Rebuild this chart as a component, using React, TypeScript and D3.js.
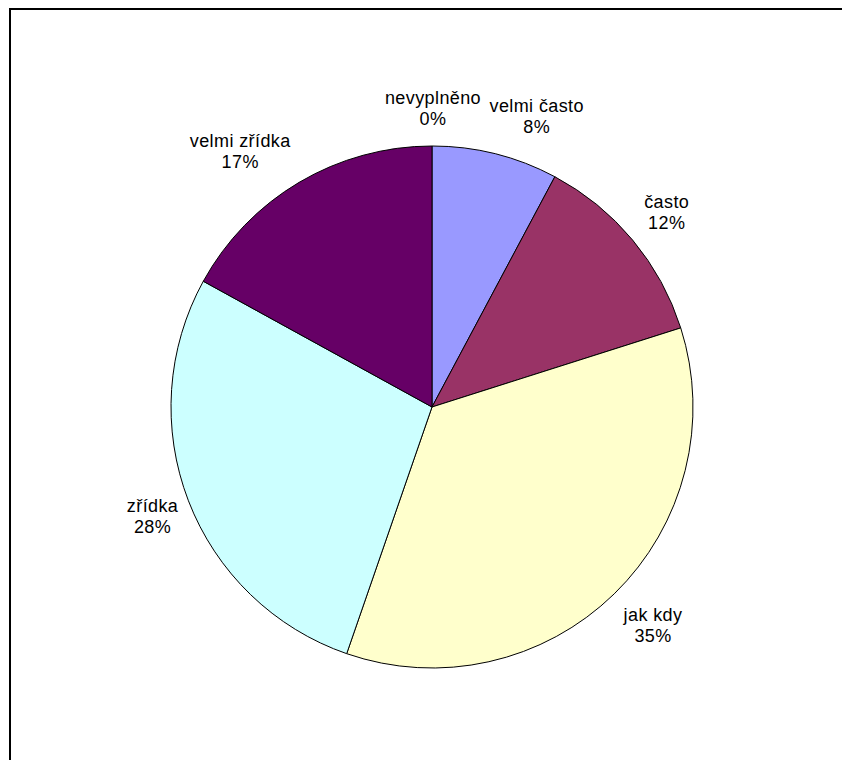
import React from "react";
import * as d3 from "d3";

const categories = ["nevyplněno", "velmi často", "často", "jak kdy", "zřídka", "velmi zřídka"];
const values = [0, 7.8, 12.3, 35.2, 27.7, 17.0];
const colors = ["#FFFFFF", "#9999FF", "#993366", "#FFFFCC", "#CCFFFF", "#660066"];
// label nudges (px) from the computed outer position, to mimic Excel's label placement
const labelNudgeX = [1, 30, -2, 6, 8, -35];
const labelNudgeY = [9, 8, 2, -3, -2, 9];

const W = 842;
const H = 760;
const cx = 432;
const cy = 407;
const R = 261;
const labelR = 308;

export default function App() {
  const pie = d3.pie<number>().sort(null).value((d) => d);
  const arcs = pie(values);
  const arc = d3.arc<d3.PieArcDatum<number>>().innerRadius(0).outerRadius(R);
  const total = d3.sum(values);

  return (
    <svg
      width={W}
      height={H}
      style={{ position: "absolute", left: 0, top: 0, display: "block", background: "#fff" }}
    >
      <path d={`M10,${H} V9 H${W}`} fill="none" stroke="#000" strokeWidth={2} />
      <g transform={`translate(${cx},${cy})`}>
        {arcs.map((a, i) => (
          <path key={i} d={arc(a) || ""} fill={colors[i]} stroke="#000" strokeWidth={1} strokeLinejoin="round" />
        ))}
      </g>
      {arcs.map((a, i) => {
        const mid = (a.startAngle + a.endAngle) / 2;
        const x = cx + labelR * Math.sin(mid) + labelNudgeX[i];
        const y = cy - labelR * Math.cos(mid) + labelNudgeY[i];
        const pct = Math.round((values[i] / total) * 100) + "%";
        return (
          <text
            key={i}
            textAnchor="middle"
            fontFamily="'Liberation Sans', Arial, sans-serif"
            fontSize={18}
            letterSpacing={0.4}
            fill="#000"
          >
            <tspan x={x} y={y - 4}>{categories[i]}</tspan>
            <tspan x={x} y={y + 17}>{pct}</tspan>
          </text>
        );
      })}
    </svg>
  );
}
